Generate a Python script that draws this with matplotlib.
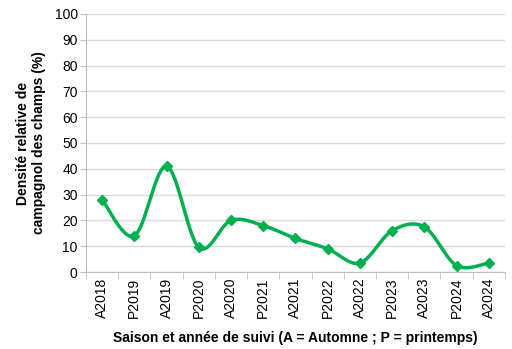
import numpy as np
import matplotlib.pyplot as plt

plt.rcParams['font.family'] = ['Liberation Sans', 'DejaVu Sans']

seasons = ['A2018', 'P2019', 'A2019', 'P2020', 'A2020', 'P2021', 'A2021',
           'P2022', 'A2022', 'P2023', 'A2023', 'P2024', 'A2024']
density = [28, 14, 41, 9.5, 20, 18, 13, 9, 3.5, 16, 17.5, 2.5, 3.5]

green = '#00B050'


def smooth_curve(x, y, steps=30):
    # Bezier smoothing through every point (Excel-style smoothed line)
    p = np.column_stack([x, y]).astype(float)
    pad = np.vstack([p[0], p, p[-1]])
    t = np.linspace(0, 1, steps)[:, None]
    out = []
    for i in range(len(p) - 1):
        p0, p1, p2, p3 = pad[i], pad[i + 1], pad[i + 2], pad[i + 3]
        c1 = p1 + (p2 - p0) / 6
        c2 = p2 - (p3 - p1) / 6
        seg = ((1 - t) ** 3) * p1 + 3 * ((1 - t) ** 2) * t * c1 \
            + 3 * (1 - t) * t ** 2 * c2 + t ** 3 * p2
        out.append(seg if i == 0 else seg[1:])
    out = np.vstack(out)
    return out[:, 0], out[:, 1]


fig = plt.figure(figsize=(5.12, 3.49), dpi=100)
ax = fig.add_axes([0.168, 0.2206, 0.818, 0.7394])

xs = np.arange(len(seasons))
sx, sy = smooth_curve(xs, density)
ax.plot(sx, sy, color=green, lw=2.5, solid_capstyle='round', zorder=3)
ax.plot(xs, density, ls='none', marker='D', ms=5.5, color=green, zorder=4)

ax.set_xlim(-0.5, len(seasons) - 0.5)
ax.set_ylim(0, 100)
ax.set_yticks(np.arange(0, 101, 10))
ax.yaxis.grid(True, color='#D9D9D9', lw=1)
ax.set_axisbelow(True)

ax.set_xticks(xs)
ax.set_xticklabels(seasons, rotation=90, fontsize=10)
ax.set_xticks(np.arange(-0.5, len(seasons), 1), minor=True)
ax.tick_params(axis='x', which='major', length=0, pad=4)
ax.tick_params(axis='x', which='minor', length=5, color='#BFBFBF', direction='out')
ax.tick_params(axis='y', length=4, color='#BFBFBF', labelsize=10, pad=2)

for side in ['top', 'right']:
    ax.spines[side].set_visible(False)
ax.spines['left'].set_color('#BFBFBF')
ax.spines['bottom'].set_color('#BFBFBF')

ax.set_ylabel('Densité relative de\ncampagnol des champs (%)',
              fontsize=10, fontweight='bold', labelpad=6)
ax.set_xlabel('Saison et année de suivi (A = Automne ; P = printemps)',
              fontsize=10, fontweight='bold', labelpad=9)

fig.savefig('out.png', dpi=100)
